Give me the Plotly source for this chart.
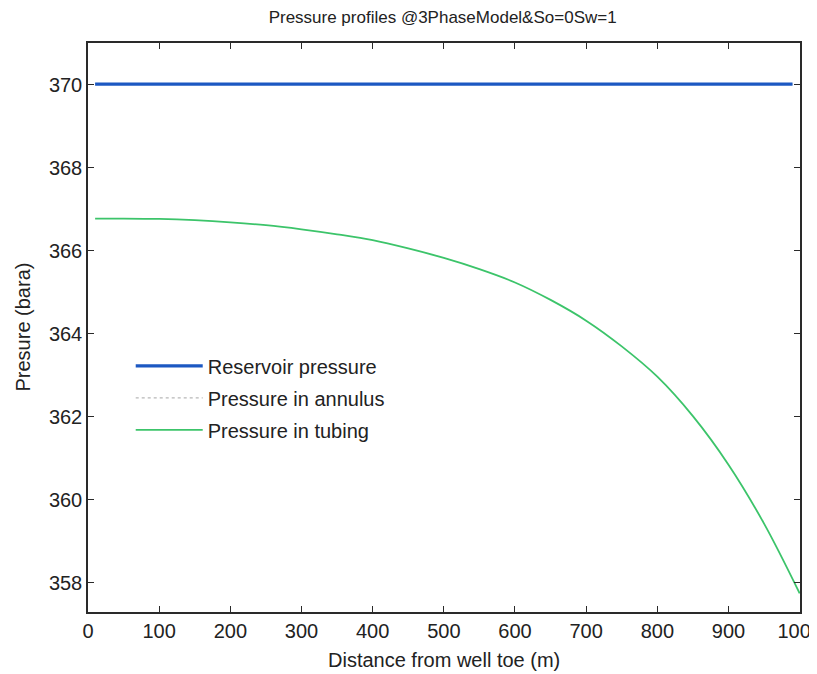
import plotly.graph_objects as go

# Distance along well (m)
distance_tubing = [10, 50, 100, 150, 200, 250, 300, 350, 400, 450, 500, 550,
                   600, 650, 700, 750, 800, 850, 900, 950, 1000]
pressure_tubing = [366.78, 366.78, 366.77, 366.74, 366.69, 366.62, 366.52, 366.40,
                   366.26, 366.06, 365.83, 365.56, 365.24, 364.82, 364.32, 363.70,
                   362.97, 362.02, 360.85, 359.43, 357.75]

distance_res = [10, 990]
pressure_res = [370.02, 370.02]

distance_ann = [10, 990]
pressure_ann = [370.02, 370.02]

x_ticks = [0, 100, 200, 300, 400, 500, 600, 700, 800, 900, 1000]
y_ticks = [358, 360, 362, 364, 366, 368, 370]

FONT = "Arial, Liberation Sans, Helvetica, sans-serif"
TXT = "#222222"

fig = go.Figure()
fig.add_trace(go.Scatter(x=distance_ann, y=pressure_ann, mode="lines",
                         name="Pressure in annulus", legendrank=2, legendgroup="b",
                         line=dict(color="#b8b8b8", width=1.2, dash="dot")))
fig.add_trace(go.Scatter(x=distance_res, y=pressure_res, mode="lines",
                         name="Reservoir pressure", legendrank=1, legendgroup="a",
                         line=dict(color="#1c58c2", width=3.2)))
fig.add_trace(go.Scatter(x=distance_tubing, y=pressure_tubing, mode="lines",
                         name="Pressure in tubing", legendrank=3, legendgroup="c",
                         line_shape="spline",
                         line=dict(color="#3cc46a", width=1.8)))

axis_common = dict(showgrid=False, zeroline=False, showline=True, linecolor="#2a2a2a",
                   linewidth=1.5, mirror="ticks", ticks="inside", ticklen=6,
                   tickwidth=1.3, tickcolor="#2a2a2a", automargin=False,
                   tickfont=dict(family=FONT, size=20, color=TXT))

fig.update_layout(
    width=817, height=674,
    paper_bgcolor="white", plot_bgcolor="white",
    margin=dict(l=80, r=25, t=35, b=70, autoexpand=False),
    title=dict(text="Pressure profiles @3PhaseModel&So=0Sw=1",
               font=dict(family=FONT, size=17, color=TXT),
               x=0.532, xanchor="center", y=0.987, yanchor="middle", automargin=False),
    xaxis=dict(range=[0, 1000.5], tickvals=x_ticks, **axis_common),
    yaxis=dict(range=[357.3, 371.01], tickvals=y_ticks, **axis_common),
    legend=dict(x=0.06, y=0.467, xanchor="left", yanchor="top",
                bgcolor="rgba(0,0,0,0)", borderwidth=0, itemwidth=67,
                font=dict(family=FONT, size=20, color=TXT), tracegroupgap=3),
    showlegend=True,
    annotations=[
        dict(text="Distance from well toe (m)", xref="paper", yref="paper",
             x=0.5, y=-48 / 569, xanchor="center", yanchor="middle", showarrow=False,
             font=dict(family=FONT, size=20, color=TXT)),
        dict(text="Presure (bara)", xref="paper", yref="paper",
             x=-66 / 712, y=0.5, xanchor="center", yanchor="middle", showarrow=False,
             textangle=-90, font=dict(family=FONT, size=20, color=TXT)),
    ],
)

fig.write_html("out.html")
